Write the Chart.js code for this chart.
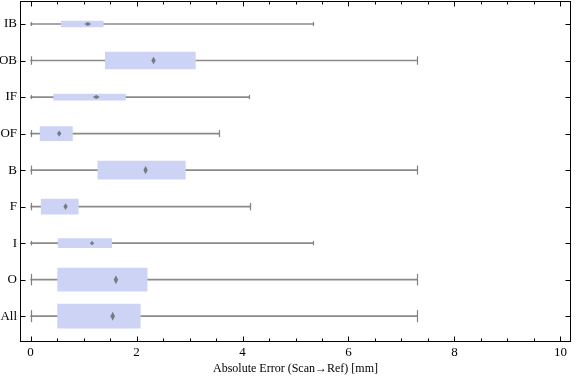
<!DOCTYPE html>
<html><head><meta charset="utf-8">
<script src="https://cdn.jsdelivr.net/npm/chart.js@4"></script>
<style>html,body{margin:0;padding:0;background:#fff}#wrap{width:576px;height:381px}</style>
</head><body><div id="wrap"><canvas id="c" width="576" height="381"></canvas></div>
<script>
const categories = ['IB','OB','IF','OF','B','F','I','O','All'];
const whiskerLow  = [0, 0, 0, 0, 0, 0, 0, 0, 0];
const quartile1   = [0.58, 1.41, 0.435, 0.18, 1.27, 0.20, 0.52, 0.51, 0.51];
const medians     = [1.08, 2.32, 1.24, 0.54, 2.17, 0.66, 1.16, 1.61, 1.55];
const quartile3   = [1.37, 3.11, 1.79, 0.79, 2.92, 0.90, 1.53, 2.20, 2.07];
const whiskerHigh = [5.33, 7.30, 4.13, 3.55, 7.30, 4.15, 5.33, 7.30, 7.30];
const boxThickness = [6, 17, 6, 14, 18, 15, 9, 23, 24];
const xTicks = [0, 2, 4, 6, 8, 10];
const xMinorTicks = [0.5,1,1.5,2.5,3,3.5,4.5,5,5.5,6.5,7,7.5,8.5,9,9.5];
const xTitle = 'Absolute Error (Scan\u2192Ref) [mm]';
const yMin = -0.63, yMax = 8.68;

const SERIF = "'Liberation Serif','DejaVu Serif',serif";

const datasets = [];
datasets.push({
  label: 'whisker',
  data: categories.map((c, i) => ({x: [whiskerLow[i], whiskerHigh[i]], y: i})),
  backgroundColor: '#8a8a8a', borderWidth: 0, barThickness: 1, grouped: false, order: 10
});
categories.forEach((c, i) => {
  datasets.push({
    label: c,
    data: [{x: [quartile1[i], quartile3[i]], y: i}],
    backgroundColor: '#CDD3F5', borderWidth: 0, barThickness: boxThickness[i], grouped: false, order: 0
  });
});

const decor = {
  id: 'decor',
  afterDatasetsDraw(chart) {
    const ctx = chart.ctx, xs = chart.scales.x, ys = chart.scales.y;
    ctx.save();
    ctx.strokeStyle = '#808080'; ctx.lineWidth = 1.2;
    categories.forEach((c, i) => {
      const py = ys.getPixelForValue(i);
      const h = Math.max(4, boxThickness[i] * 0.5);
      [whiskerLow[i], whiskerHigh[i]].forEach(v => {
        const px = Math.round(xs.getPixelForValue(v)) + 0.5;
        ctx.beginPath(); ctx.moveTo(px, py - h / 2); ctx.lineTo(px, py + h / 2); ctx.stroke();
      });
    });
    ctx.fillStyle = 'rgba(105,105,105,0.85)';
    categories.forEach((c, i) => {
      const py = ys.getPixelForValue(i);
      const px = xs.getPixelForValue(medians[i]);
      const h = Math.min(9, Math.max(4, boxThickness[i] * 0.45));
      const w = boxThickness[i] < 8 ? 3.5 : 2.2;
      ctx.beginPath();
      ctx.moveTo(px, py - h / 2); ctx.lineTo(px + w, py); ctx.lineTo(px, py + h / 2); ctx.lineTo(px - w, py);
      ctx.closePath(); ctx.fill();
    });
    const a = chart.chartArea;
    const L = a.left + 0.5, R = a.right - 0.5, T = a.top + 0.5, B = a.bottom + 0.5;
    ctx.strokeStyle = '#000'; ctx.lineWidth = 1;
    ctx.strokeRect(L, T, R - L, B - T);
    ctx.beginPath();
    xTicks.forEach(v => {
      const px = Math.round(xs.getPixelForValue(v)) + 0.5;
      ctx.moveTo(px, B); ctx.lineTo(px, B - 5);
      ctx.moveTo(px, T); ctx.lineTo(px, T + 5);
    });
    xMinorTicks.forEach(v => {
      const px = Math.round(xs.getPixelForValue(v)) + 0.5;
      ctx.moveTo(px, B); ctx.lineTo(px, B - 3);
      ctx.moveTo(px, T); ctx.lineTo(px, T + 3);
    });
    categories.forEach((c, i) => {
      const py = Math.round(ys.getPixelForValue(i)) + 0.5;
      ctx.moveTo(L, py); ctx.lineTo(L + 5, py);
      ctx.moveTo(R, py); ctx.lineTo(R - 5, py);
    });
    ctx.stroke();
    ctx.restore();
  }
};

new Chart(document.getElementById('c'), {
  type: 'bar',
  data: {datasets},
  options: {
    indexAxis: 'y',
    responsive: false,
    animation: false,
    layout: {padding: {top: 1, right: 5, left: 0, bottom: 0}},
    plugins: {legend: {display: false}, tooltip: {enabled: false}},
    scales: {
      x: {
        type: 'linear', position: 'bottom', min: -0.2, max: 10.2, offset: false,
        grid: {display: false, drawTicks: false}, border: {display: false},
        afterBuildTicks: s => { s.ticks = xTicks.map(v => ({value: v})); s.min = -0.2; s.max = 10.2; },
        afterFit: s => { s.height = 40; s.paddingLeft = 0; s.paddingRight = 0; },
        ticks: {font: {family: SERIF, size: 13}, color: '#000', padding: 4, maxRotation: 0},
        title: {display: true, text: xTitle, font: {family: SERIF, size: 12}, color: '#000', padding: {top: 0, bottom: 5}}
      },
      y: {
        type: 'linear', reverse: true, min: yMin, max: yMax, offset: false,
        grid: {display: false, drawTicks: false}, border: {display: false},
        afterBuildTicks: s => { s.ticks = categories.map((c, i) => ({value: i})); s.min = yMin; s.max = yMax; },
        afterFit: s => { s.width = 20; s.paddingTop = 0; s.paddingBottom = 0; },
        ticks: {font: {family: SERIF, size: 13}, color: '#000', padding: 3,
                callback: v => categories[v]}
      }
    }
  },
  plugins: [decor]
});
</script>
</body></html>
